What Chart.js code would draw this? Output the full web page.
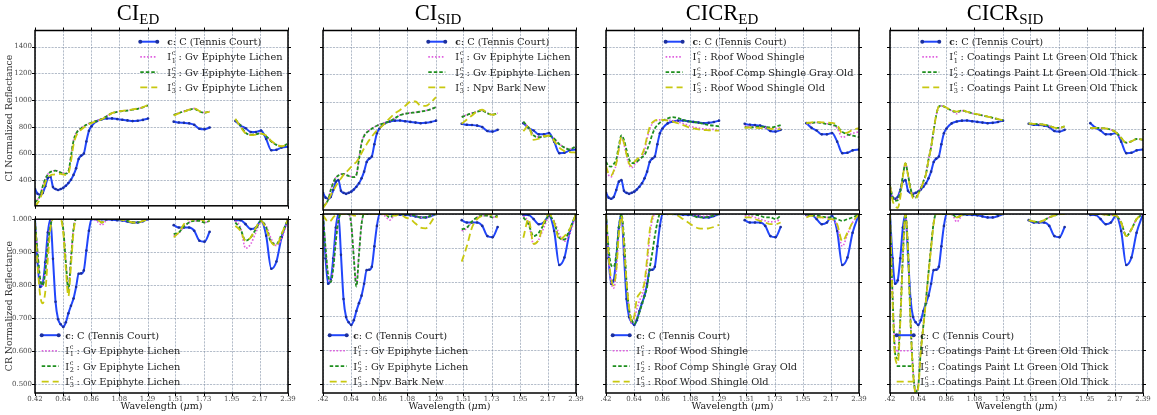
<!DOCTYPE html>
<html>
<head>
<meta charset="utf-8">
<script src="https://cdn.jsdelivr.net/npm/chart.js@4.4.1/dist/chart.umd.min.js"></script>
<style>
  html, body { margin: 0; padding: 0; background: #fff; }
  #fig { position: relative; width: 1157px; height: 415px; overflow: hidden; background: #fff; }
  #fig canvas { position: absolute; }
</style>
</head>
<body>
<div id="fig"></div>
<script>
// Wavelength samples (µm); 1.40 and 1.88 carry null values to break the line at the water bands.
const WAVELENGTH = [
  0.42, 0.44, 0.46, 0.48, 0.50, 0.52, 0.54, 0.56, 0.58, 0.60, 0.62, 0.64, 0.66, 0.68, 0.70, 0.72, 0.74,
  0.76, 0.78, 0.80, 0.82, 0.84, 0.86, 0.90, 0.94, 0.98, 1.02, 1.06, 1.10, 1.14, 1.18, 1.22, 1.26, 1.30,
  1.40,
  1.50, 1.54, 1.58, 1.62, 1.66, 1.70, 1.74, 1.78,
  1.88,
  1.98, 2.02, 2.06, 2.10, 2.14, 2.18, 2.22, 2.26, 2.30, 2.34, 2.39
];

// Tick positions and labels
const X_TICKS = [0.42, 0.639, 0.858, 1.077, 1.296, 1.514, 1.733, 1.952, 2.171, 2.39];
const X_TICK_LABELS = ['0.42', '0.64', '0.86', '1.08', '1.29', '1.51', '1.73', '1.95', '2.17', '2.39'];
const X_TICK_LABELS_CUT = ['.42', '0.64', '0.86', '1.08', '1.29', '1.51', '1.73', '1.95', '2.17', '2.39'];
const CI_TICKS = [400, 600, 800, 1000, 1200, 1400];
const CR_TICKS = [0.5, 0.6, 0.7, 0.8, 0.9, 1.0];

// ---- CI normalized reflectance ----
const TENNIS_CI = [336,300,292,305,356,417,428,350,335,328,335,344,360,380,405,441,490,560,585,600,690,770,805,842,856,862,863,858,853,848,843,846,852,862,
  null, 839,832,830,826,815,786,782,795, null, 844,810,790,762,762,772,709,625,628,645,651];
const LICHEN1_CI = [238,258,288,357,412,447,465,472,475,468,460,454,452,468,585,700,755,777,792,805,816,826,833,846,860,882,903,913,919,923,929,936,946,962,
  null, 890,905,917,929,937,917,907,917, null, 852,812,757,743,747,754,732,692,667,654,677];
const LICHEN2_CI = [234,255,285,355,410,445,462,470,473,466,458,452,450,465,580,695,750,775,790,803,815,825,832,845,858,880,902,912,918,922,928,935,945,961,
  null, 888,903,915,927,935,915,905,915, null, 855,810,755,741,745,752,730,690,665,652,675];
const LICHEN3_CI = [205,230,262,320,385,420,437,443,446,448,448,444,440,450,540,665,730,760,780,795,810,820,828,843,857,880,903,913,920,925,930,937,948,963,
  null, 885,900,913,928,938,918,908,912, null, 860,800,750,738,742,750,735,695,668,655,670];
const NPV_BARK_CI = [222,250,280,318,352,385,415,440,466,485,505,525,545,560,590,625,660,690,720,745,770,790,805,840,880,915,940,970,1000,1002,972,970,995,1034,
  null, 839,870,900,930,942,918,905,915, null, 785,825,722,730,750,752,715,665,640,633,629];
const ROOF_WOOD_CI = [515,465,452,490,545,650,742,690,605,540,518,538,558,575,598,640,730,800,838,858,865,868,868,866,862,852,842,828,815,808,802,800,798,796,
  null, 824,820,818,815,812,808,806,810, null, 839,842,849,845,840,830,807,740,755,770,780];
const ROOF_COMP_CI = [563,530,527,545,580,680,755,720,648,580,552,553,563,580,595,612,650,700,760,805,830,848,862,878,888,880,868,858,852,848,838,830,825,820,
  null, 814,812,815,818,816,812,818,830, null, 844,846,850,845,838,832,818,780,762,752,741];
const ROOF_WOOD_OLD_CI = [530,475,462,495,550,655,745,700,615,548,530,560,580,595,615,665,745,815,848,862,868,869,868,862,855,843,830,815,805,798,794,792,790,790,
  null, 810,812,810,808,806,803,800,800, null, 845,850,852,850,848,845,830,770,775,795,807];
const COAT1_CI = [393,310,285,290,350,460,548,470,372,318,305,335,370,420,475,580,670,790,900,962,970,965,955,935,912,935,925,915,907,900,890,882,872,863,
  null, 839,838,835,832,822,810,808,819, null, 807,808,807,804,795,775,735,700,710,727,722];
const COAT2_CI = [390,305,278,282,345,458,550,468,368,310,300,333,368,418,473,578,668,790,902,964,971,965,955,937,925,937,926,916,908,900,891,883,873,864,
  null, 840,839,836,833,823,811,809,820, null, 808,809,808,805,796,776,736,701,711,728,723];
const COAT3_CI = [385,280,240,225,300,450,552,465,355,295,290,325,362,415,470,575,668,792,903,965,972,966,956,938,928,938,927,917,909,901,892,884,874,865,
  null, 840,839,836,833,823,811,809,820, null, 808,809,808,805,796,776,736,701,711,728,723];

// ---- CR normalized reflectance ----
const TENNIS_CR = [1.0,0.87,0.795,0.805,0.87,0.96,1.0,0.88,0.75,0.697,0.682,0.674,0.688,0.715,0.738,0.76,0.795,0.835,0.836,0.845,0.905,0.965,1.0,1.0,1.0,0.999,0.998,0.997,0.996,0.993,0.99,0.99,0.994,1.0,
  null, 0.982,0.975,0.975,0.975,0.965,0.935,0.932,0.962, null, 0.997,0.997,0.985,0.97,0.975,0.995,0.95,0.85,0.872,0.945,1.0];
const LICHEN1_CR = [0.995,0.90,0.82,0.80,0.845,0.925,0.985,1.0,1.0,1.0,1.0,0.97,0.875,0.79,0.885,0.97,1.0,1.0,1.0,1.0,1.0,1.0,1.0,0.995,0.982,0.998,1.0,1.0,0.998,0.995,0.99,0.99,0.995,1.0,
  null, 0.95,0.958,0.977,0.99,0.995,0.995,0.99,0.995, null, 0.995,0.975,0.912,0.925,0.96,0.99,0.98,0.94,0.92,0.94,1.0];
const LICHEN2_CR = [0.995,0.90,0.82,0.80,0.84,0.92,0.98,1.0,1.0,1.0,1.0,0.97,0.87,0.787,0.88,0.97,1.0,1.0,1.0,1.0,1.0,1.0,1.0,1.0,0.99,1.0,1.0,1.0,0.998,0.995,0.99,0.99,0.995,1.0,
  null, 0.955,0.96,0.978,0.99,0.995,0.995,0.99,0.995, null, 0.99,0.97,0.935,0.945,0.97,0.995,0.975,0.93,0.925,0.955,1.0];
const LICHEN3_CR = [0.99,0.86,0.77,0.745,0.78,0.88,0.97,1.0,1.0,1.0,1.0,0.96,0.85,0.767,0.86,0.96,1.0,1.0,1.0,1.0,1.0,1.0,1.0,1.0,0.99,1.0,1.0,1.0,0.998,0.995,0.99,0.99,0.995,1.0,
  null, 0.945,0.96,0.985,1.0,0.998,1.0,0.995,0.995, null, 0.98,0.965,0.935,0.945,0.975,0.995,0.97,0.93,0.92,0.955,1.0];
const NPV_BARK_CR = [0.997,0.985,0.977,0.98,0.99,0.997,1.0,1.0,1.0,1.0,1.0,1.0,0.995,0.995,1.0,1.0,1.0,1.0,1.0,1.0,1.0,1.0,1.0,1.0,0.995,0.995,1.0,0.99,0.985,0.972,0.96,0.958,0.975,1.0,
  null, 0.86,0.905,0.96,0.985,0.995,1.0,0.995,0.99, null, 0.93,0.985,0.912,0.925,0.975,1.0,0.975,0.925,0.935,0.955,1.0];
const ROOF_WOOD_CR = [1.0,0.87,0.80,0.782,0.83,0.94,0.995,0.91,0.80,0.72,0.678,0.69,0.72,0.745,0.76,0.79,0.85,0.935,0.98,1.0,1.0,1.0,1.0,1.0,1.0,1.0,1.0,1.0,0.998,0.995,0.993,0.995,0.997,1.0,
  null, 0.995,0.995,0.99,0.985,0.98,0.977,0.978,0.985, null, 0.995,0.995,0.993,0.99,0.99,0.985,0.965,0.905,0.94,0.975,1.0];
const ROOF_COMP_CR = [1.0,0.90,0.85,0.845,0.88,0.96,1.0,0.93,0.80,0.72,0.69,0.676,0.69,0.71,0.735,0.76,0.785,0.84,0.885,0.935,0.975,1.0,1.0,1.0,1.0,1.0,1.0,1.0,0.995,0.99,0.99,0.992,0.996,1.0,
  null, 1.0,1.0,0.998,0.995,0.99,0.99,0.985,0.995, null, 1.0,0.995,0.995,0.993,0.99,0.99,0.985,0.98,0.985,0.99,1.0];
const ROOF_WOOD_OLD_CR = [1.0,0.88,0.81,0.79,0.835,0.94,0.995,0.91,0.80,0.725,0.683,0.70,0.75,0.765,0.775,0.80,0.87,0.95,0.99,1.0,1.0,1.0,1.0,1.0,1.0,0.995,0.985,0.975,0.965,0.958,0.957,0.958,0.962,0.968,
  null, 0.99,0.99,0.985,0.98,0.975,0.97,0.97,0.975, null, 0.99,0.995,0.99,0.99,0.985,0.985,0.97,0.92,0.945,0.975,1.0];
const COAT1_CR = [1.0,0.77,0.61,0.595,0.70,0.88,1.0,0.90,0.69,0.54,0.48,0.50,0.605,0.675,0.75,0.83,0.905,0.975,1.0,1.0,1.0,1.0,1.0,1.0,0.977,0.995,1.0,1.0,1.0,1.0,1.0,1.0,1.0,1.0,
  null, 0.982,0.978,0.977,0.982,0.99,0.995,1.0,1.0, null, 1.0,1.0,1.0,0.998,0.997,0.995,0.975,0.935,0.955,0.985,1.0];
const COAT2_CR = [1.0,0.76,0.59,0.575,0.69,0.875,1.0,0.90,0.685,0.535,0.478,0.495,0.60,0.672,0.748,0.828,0.905,0.975,1.0,1.0,1.0,1.0,1.0,1.0,0.99,0.997,1.0,1.0,1.0,1.0,1.0,1.0,1.0,1.0,
  null, 0.982,0.978,0.977,0.982,0.99,0.995,1.0,1.0, null, 1.0,1.0,1.0,0.998,0.997,0.995,0.975,0.935,0.955,0.985,1.0];
const COAT3_CR = [1.0,0.74,0.58,0.56,0.68,0.87,1.0,0.895,0.68,0.53,0.474,0.49,0.595,0.67,0.745,0.825,0.90,0.972,1.0,1.0,1.0,1.0,1.0,1.0,0.99,0.997,1.0,1.0,1.0,1.0,1.0,1.0,1.0,1.0,
  null, 0.982,0.978,0.977,0.982,0.99,0.995,1.0,1.0, null, 1.0,1.0,1.0,0.998,0.997,0.995,0.975,0.935,0.955,0.985,1.0];

// Material names per panel (first entry is the target pixel class)
const NAMES_CI_ED = ['C (Tennis Court)', 'Gv Epiphyte Lichen', 'Gv Epiphyte Lichen', 'Gv Epiphyte Lichen'];
const NAMES_CI_SID = ['C (Tennis Court)', 'Gv Epiphyte Lichen', 'Gv Epiphyte Lichen', 'Npv Bark New'];
const NAMES_CICR_ED = ['C (Tennis Court)', 'Roof Wood Shingle', 'Roof Comp Shingle Gray Old', 'Roof Wood Shingle Old'];
const NAMES_CICR_SID = ['C (Tennis Court)', 'Coatings Paint Lt Green Old Thick', 'Coatings Paint Lt Green Old Thick', 'Coatings Paint Lt Green Old Thick'];

const PANELS = [
  { title: 'CI', sub: 'ED', names: NAMES_CI_ED,
    ci: [TENNIS_CI, LICHEN1_CI, LICHEN2_CI, LICHEN3_CI], cr: [TENNIS_CR, LICHEN1_CR, LICHEN2_CR, LICHEN3_CR] },
  { title: 'CI', sub: 'SID', names: NAMES_CI_SID,
    ci: [TENNIS_CI, LICHEN1_CI, LICHEN2_CI, NPV_BARK_CI], cr: [TENNIS_CR, LICHEN1_CR, LICHEN2_CR, NPV_BARK_CR] },
  { title: 'CICR', sub: 'ED', names: NAMES_CICR_ED,
    ci: [TENNIS_CI, ROOF_WOOD_CI, ROOF_COMP_CI, ROOF_WOOD_OLD_CI], cr: [TENNIS_CR, ROOF_WOOD_CR, ROOF_COMP_CR, ROOF_WOOD_OLD_CR] },
  { title: 'CICR', sub: 'SID', names: NAMES_CICR_SID,
    ci: [TENNIS_CI, COAT1_CI, COAT2_CI, COAT3_CI], cr: [TENNIS_CR, COAT1_CR, COAT2_CR, COAT3_CR] }
];

// ---- layout and styles ----
const PLOT_LEFT = [35, 323, 606, 890];
const TITLE_CENTER = [138, 438, 722, 1005];
const PLOT_W = 253;
const AXIS_W = 35;
const RIGHT_PAD = 12;
const SERIF = '"DejaVu Serif", serif';
const LEG_FONT = '9.8px ' + SERIF;
const LEG_SMALL = '6.6px ' + SERIF;
const GRID_COLOR = 'rgba(120,135,160,0.62)';

const LINE_STYLES = [
  { borderColor: '#2146fb', borderWidth: 2, borderDash: [], pointRadius: 1.3, pointBackgroundColor: '#1b2f9c', order: 3 },
  { borderColor: '#e060e0', borderWidth: 1.6, borderDash: [1.6, 1.8], pointRadius: 0, order: 2 },
  { borderColor: '#1e8f1e', borderWidth: 1.8, borderDash: [3.5, 2], pointRadius: 0, order: 1 },
  { borderColor: '#c8c810', borderWidth: 1.8, borderDash: [7, 4], pointRadius: 0, order: 0 }
];

const ROWS = {
  ci: { top: 0, height: 213, padTop: 30.5, xHeight: 3, min: 210, max: 1520, ticks: CI_TICKS,
        fmt: v => String(v), yTitle: 'CI Normalized Reflectance', legend: 'tr', showX: false },
  cr: { top: 212, height: 203, padTop: 2, xHeight: 22, min: 0.474, max: 1.0, ticks: CR_TICKS,
        fmt: v => v.toFixed(3), yTitle: 'CR Normalized Reflectance', legend: 'bl', showX: true }
};

// ---- drawing helpers ----
function legendEntryWidth(ctx, i, name) {
  if (i === 0) {
    ctx.font = 'bold 9px ' + SERIF; let w = ctx.measureText('c').width;
    ctx.font = LEG_FONT; return w + ctx.measureText(': ' + name).width;
  }
  ctx.font = LEG_FONT; let w = ctx.measureText('I').width + 0.6;
  ctx.font = LEG_SMALL; w += ctx.measureText('c').width;
  ctx.font = LEG_FONT; return w + ctx.measureText(' : ' + name).width;
}

function drawLegendEntry(ctx, x, y, i, name) {
  const base = y + 3.4;
  ctx.fillStyle = '#222';
  ctx.textAlign = 'left';
  ctx.textBaseline = 'alphabetic';
  if (i === 0) {
    ctx.font = 'bold 9px ' + SERIF; ctx.fillText('c', x, base); x += ctx.measureText('c').width;
    ctx.font = LEG_FONT; ctx.fillText(': ' + name, x, base);
    return;
  }
  ctx.font = LEG_FONT; ctx.fillText('I', x, base); x += ctx.measureText('I').width + 0.6;
  ctx.font = LEG_SMALL;
  ctx.fillText('c', x, base - 4.9);
  ctx.fillText(String(i), x, base + 2.3);
  x += ctx.measureText('c').width;
  ctx.font = LEG_FONT; ctx.fillText(' : ' + name, x, base);
}

function drawHandle(ctx, x0, x1, y, style) {
  ctx.save();
  ctx.strokeStyle = style.borderColor; ctx.lineWidth = style.borderWidth;
  ctx.setLineDash(style.borderDash);
  ctx.beginPath(); ctx.moveTo(x0, y); ctx.lineTo(x1, y); ctx.stroke();
  if (style.pointRadius > 0) {
    ctx.fillStyle = style.pointBackgroundColor;
    [x0, x1].forEach(px => { ctx.beginPath(); ctx.arc(px, y, 2, 0, Math.PI * 2); ctx.fill(); });
  }
  ctx.restore();
}

const decorPlugin = {
  id: 'panelDecor',
  beforeDatasetsDraw(chart) {
    const { ctx, chartArea: a, scales: { x, y } } = chart;
    ctx.save();
    ctx.strokeStyle = GRID_COLOR; ctx.lineWidth = 0.9; ctx.setLineDash([2.2, 1.1]);
    ctx.beginPath();
    x.ticks.forEach(t => { const p = Math.round(x.getPixelForValue(t.value)) + 0.5; ctx.moveTo(p, a.top); ctx.lineTo(p, a.bottom); });
    y.ticks.forEach(t => { const p = Math.round(y.getPixelForValue(t.value)) + 0.5; ctx.moveTo(a.left, p); ctx.lineTo(a.right, p); });
    ctx.stroke();
    ctx.restore();
  },
  afterDatasetsDraw(chart, args, opts) {
    const { ctx, chartArea: a, scales: { x, y } } = chart;
    // frame and outward tick marks on all four sides
    ctx.save();
    ctx.strokeStyle = '#000'; ctx.lineWidth = 1; ctx.setLineDash([]);
    ctx.beginPath();
    x.ticks.forEach(t => {
      const p = Math.round(x.getPixelForValue(t.value)) + 0.5;
      ctx.moveTo(p, a.top); ctx.lineTo(p, a.top - 3);
      ctx.moveTo(p, a.bottom); ctx.lineTo(p, a.bottom + 3);
    });
    y.ticks.forEach(t => {
      const p = Math.round(y.getPixelForValue(t.value)) + 0.5;
      ctx.moveTo(a.left, p); ctx.lineTo(a.left - 3, p);
      ctx.moveTo(a.right, p); ctx.lineTo(a.right + 3, p);
    });
    ctx.stroke();
    ctx.lineWidth = 1.5;
    ctx.strokeRect(a.left, a.top, a.right - a.left, a.bottom - a.top);
    ctx.restore();

    // legend without background
    const dsets = chart.data.datasets;
    ctx.save();
    const HANDLE = 17;
    let hx, gap, rowY;
    if (opts.legend === 'tr') {
      gap = 10;
      const maxW = Math.max(...dsets.map((d, i) => legendEntryWidth(ctx, i, d.label)));
      hx = a.right - 5.5 - maxW - gap - HANDLE;
      rowY = i => a.top + 11.2 + i * 15.2;
    } else {
      gap = 6.5;
      hx = a.left + 6.7;
      rowY = i => a.bottom - 11.3 - (dsets.length - 1 - i) * 15.5;
    }
    dsets.forEach((d, i) => {
      const yy = rowY(i);
      drawHandle(ctx, hx, hx + HANDLE, yy, LINE_STYLES[i]);
      drawLegendEntry(ctx, hx + HANDLE + gap, yy, i, d.label);
    });
    ctx.restore();
  },
  afterDraw(chart, args, opts) {
    const { ctx, chartArea: a } = chart;
    ctx.save();
    ctx.fillStyle = '#000';
    ctx.textBaseline = 'alphabetic';
    if (opts.title) {
      ctx.font = '22.5px "Liberation Serif", "Times New Roman", serif';
      const w1 = ctx.measureText(opts.title).width;
      ctx.font = '15px "Liberation Serif", "Times New Roman", serif';
      const w2 = ctx.measureText(opts.sub).width;
      const x0 = opts.titleCenter - (w1 + w2) / 2;
      ctx.font = '22.5px "Liberation Serif", "Times New Roman", serif';
      ctx.fillText(opts.title, x0, 20);
      ctx.font = '15px "Liberation Serif", "Times New Roman", serif';
      ctx.fillText(opts.sub, x0 + w1, 23.5);
    }
    if (opts.yTitle) {
      ctx.save();
      ctx.translate(9.5, (a.top + a.bottom) / 2);
      ctx.rotate(-Math.PI / 2);
      ctx.font = '9.3px ' + SERIF; ctx.fillStyle = '#333';
      ctx.textAlign = 'center'; ctx.textBaseline = 'middle';
      ctx.fillText(opts.yTitle, 0, 0);
      ctx.restore();
    }
    if (opts.xTitle) {
      ctx.fillStyle = '#222';
      ctx.textBaseline = 'middle';
      const parts = [['Wavelength (', '9.5px '], ['\u03bc', 'italic 9.5px '], ['m)', '9.5px ']];
      let total = 0;
      parts.forEach(p => { ctx.font = p[1] + SERIF; total += ctx.measureText(p[0]).width; });
      let xx = (a.left + a.right) / 2 - total / 2;
      const yy = a.bottom + 14;
      parts.forEach(p => { ctx.font = p[1] + SERIF; ctx.fillText(p[0], xx, yy); xx += ctx.measureText(p[0]).width; });
    }
    ctx.restore();
  }
};

// ---- build the eight panels ----
const fig = document.getElementById('fig');

function makePanel(col, rowKey) {
  const row = ROWS[rowKey];
  const panel = PANELS[col];
  const canvasLeft = PLOT_LEFT[col] - AXIS_W;
  const cw = AXIS_W + PLOT_W + RIGHT_PAD;
  const canvas = document.createElement('canvas');
  canvas.width = cw; canvas.height = row.height;
  canvas.style.left = canvasLeft + 'px'; canvas.style.top = row.top + 'px';
  canvas.style.width = cw + 'px'; canvas.style.height = row.height + 'px';
  fig.appendChild(canvas);

  const series = panel[rowKey];
  const datasets = series.map((vals, i) => Object.assign({
    label: panel.names[i],
    data: WAVELENGTH.map((w, k) => ({ x: w, y: vals[k] })),
    fill: false,
    spanGaps: false,
    cubicInterpolationMode: 'monotone',
    pointBorderWidth: 0,
    pointHoverRadius: 0
  }, LINE_STYLES[i]));

  const xLabels = col === 0 ? X_TICK_LABELS : X_TICK_LABELS_CUT;

  new Chart(canvas, {
    type: 'line',
    data: { datasets },
    plugins: [decorPlugin],
    options: {
      responsive: false,
      animation: false,
      devicePixelRatio: 1,
      events: [],
      layout: { padding: { left: 0, right: RIGHT_PAD, top: row.padTop, bottom: 0 } },
      plugins: {
        legend: { display: false },
        tooltip: { enabled: false },
        panelDecor: {
          title: rowKey === 'ci' ? panel.title : '',
          sub: panel.sub,
          titleCenter: TITLE_CENTER[col] - canvasLeft,
          yTitle: col === 0 ? row.yTitle : '',
          xTitle: rowKey === 'cr',
          legend: row.legend
        }
      },
      scales: {
        x: {
          type: 'linear', min: 0.42, max: 2.39,
          grid: { display: false, drawTicks: false, tickLength: 0 }, border: { display: false },
          afterBuildTicks: s => { s.ticks = X_TICKS.map(v => ({ value: v })); },
          afterFit: s => { s.height = row.xHeight; },
          ticks: {
            display: row.showX, autoSkip: false, maxRotation: 0, minRotation: 0, padding: 1.5,
            color: '#4a4a4a', font: { family: 'DejaVu Serif', size: 7 },
            callback: (v, i) => xLabels[i]
          }
        },
        y: {
          type: 'linear', min: row.min, max: row.max,
          grid: { display: false, drawTicks: false, tickLength: 0 }, border: { display: false },
          afterBuildTicks: s => { s.ticks = row.ticks.map(v => ({ value: v })); },
          afterFit: s => { s.width = AXIS_W; },
          ticks: {
            display: col === 0, padding: 3,
            color: '#4a4a4a', font: { family: 'DejaVu Serif', size: 7 },
            callback: (v, i) => row.fmt(row.ticks[i])
          }
        }
      }
    }
  });
}

for (let c = 0; c < 4; c++) { makePanel(c, 'ci'); makePanel(c, 'cr'); }
</script>
</body>
</html>
